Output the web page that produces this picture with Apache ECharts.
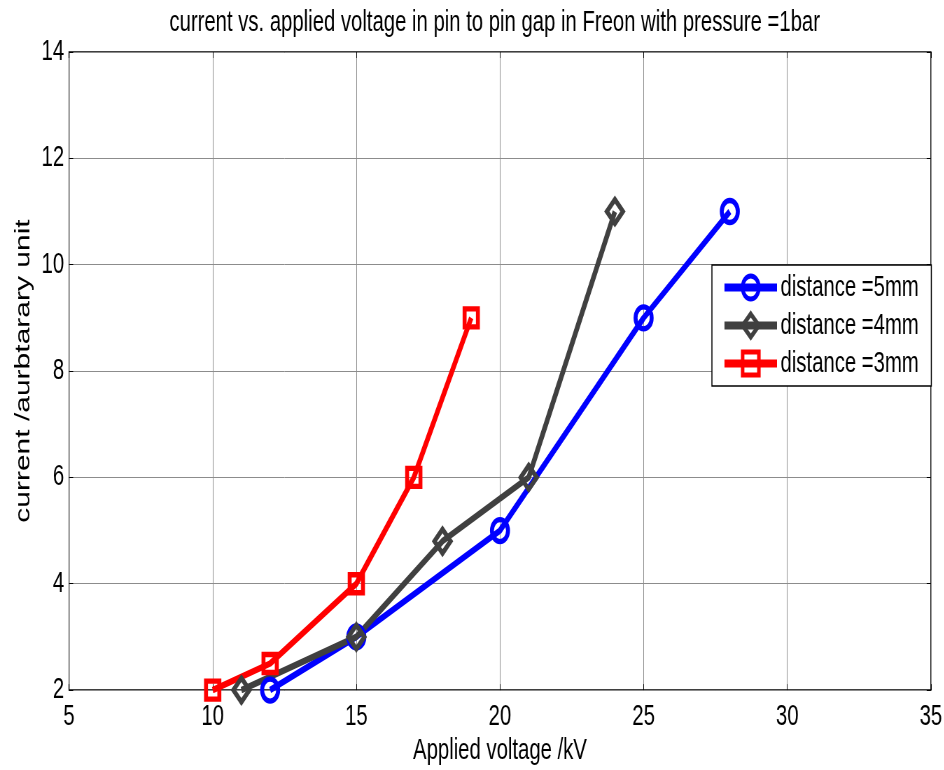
<!DOCTYPE html>
<html>
<head>
<meta charset="utf-8">
<script src="https://cdn.jsdelivr.net/npm/echarts@6/dist/echarts.min.js"></script>
<style>
  html, body { margin: 0; padding: 0; background: #fff; overflow: hidden; }
  #wrap { width: 944px; height: 770px; overflow: hidden; }
  /* the figure is laid out wide and then narrowed horizontally */
  #chart { width: 1349px; height: 770px; transform: scaleX(0.7); transform-origin: 0 0; }
</style>
</head>
<body>
<div id="wrap"><div id="chart"></div></div>
<script>
// Applied voltage (kV) and current (arbitrary unit) for each gap distance
const volt5mm = [12, 15, 20, 25, 28];
const curr5mm = [2, 3, 5, 9, 11];
const volt4mm = [11, 15, 18, 21, 24];
const curr4mm = [2, 3, 4.8, 6, 11];
const volt3mm = [10, 12, 15, 17, 19];
const curr3mm = [2, 2.5, 4, 6, 9];
const seriesNames = ['distance =5mm', 'distance =4mm', 'distance =3mm'];
const xTicks = [5, 10, 15, 20, 25, 30, 35];
const yTicks = [2, 4, 6, 8, 10, 12, 14];

const FONT = "'Liberation Sans', Arial, Helvetica, sans-serif";
const FS = 29;

function pairs(xs, ys) { return xs.map((x, i) => [x, ys[i]]); }

const chart = echarts.init(document.getElementById('chart'), null, { renderer: 'canvas' });

// mirror axes: only the inward ticks on the top and right edges of the box
const tickAxis = (extra) => Object.assign({
  axisLine: { show: false },
  axisTick: { show: true, inside: true, length: 6, lineStyle: { color: '#000', width: 1 } },
  splitLine: { show: false },
  axisLabel: { show: false }
}, extra);

const mkSeries = (name, data, color, symbol, size) => ({
  name: name,
  type: 'line',
  data: data,
  symbol: symbol,
  symbolSize: size,
  showSymbol: true,
  lineStyle: { color: color, width: 6.5 },
  itemStyle: { color: 'transparent', borderColor: color, borderWidth: 5.5 },
  emphasis: { disabled: true },
  z: 3
});

chart.setOption({
  animation: false,
  backgroundColor: '#fff',
  title: {
    text: 'current vs. applied voltage in pin to pin gap in Freon with pressure =1bar',
    left: 237,
    top: 3,
    textStyle: { fontFamily: FONT, fontSize: FS, fontWeight: 'normal', color: '#000' }
  },
  legend: {
    orient: 'vertical',
    left: 1017,
    top: 265,
    width: 313,
    padding: [8, 18, 8, 14],
    itemGap: 9,
    itemWidth: 75,
    itemHeight: 29,
    backgroundColor: '#fff',
    borderColor: '#000',
    borderWidth: 1.5,
    borderRadius: 0,
    lineStyle: { width: 8 },
    itemStyle: { borderWidth: 5 },
    textStyle: { fontFamily: FONT, fontSize: FS, color: '#000' },
    data: seriesNames
  },
  grid: {
    left: 98.6, right: 18.6, top: 52, bottom: 77,
    show: true, borderColor: '#000', borderWidth: 1.5, backgroundColor: '#fff'
  },
  xAxis: [{
    type: 'value', min: xTicks[0], max: xTicks[xTicks.length - 1], interval: 5,
    name: 'Applied voltage /kV', nameLocation: 'middle', nameGap: 45,
    nameTextStyle: { fontFamily: FONT, fontSize: FS, color: '#000' },
    axisLine: { show: false },
    axisTick: { show: true, inside: true, length: 6, lineStyle: { color: '#000' } },
    axisLabel: { fontFamily: FONT, fontSize: FS, color: '#000', margin: 12 },
    splitLine: { show: true, lineStyle: { color: '#8c8c8c', width: 1 } }
  }, tickAxis({ type: 'value', position: 'top', min: 5, max: 35, interval: 5 })],
  yAxis: [{
    type: 'value', min: yTicks[0], max: yTicks[yTicks.length - 1], interval: 2,
    name: 'current /aurbtarary unit', nameLocation: 'middle', nameGap: 50,
    nameTextStyle: { fontFamily: FONT, fontSize: 30, color: '#000' },
    axisLine: { show: false },
    axisTick: { show: true, inside: true, length: 6, lineStyle: { color: '#000' } },
    axisLabel: { fontFamily: FONT, fontSize: FS, color: '#000', margin: 7 },
    splitLine: { show: true, lineStyle: { color: '#8c8c8c', width: 1 } }
  }, tickAxis({ type: 'value', position: 'right', min: 2, max: 14, interval: 2 })],
  series: [
    mkSeries(seriesNames[0], pairs(volt5mm, curr5mm), '#0000ff', 'circle', [23, 22]),
    mkSeries(seriesNames[1], pairs(volt4mm, curr4mm), '#404040', 'diamond', [23, 24]),
    mkSeries(seriesNames[2], pairs(volt3mm, curr3mm), '#ff0000', 'rect', [19, 18])
  ]
});
</script>
</body>
</html>
